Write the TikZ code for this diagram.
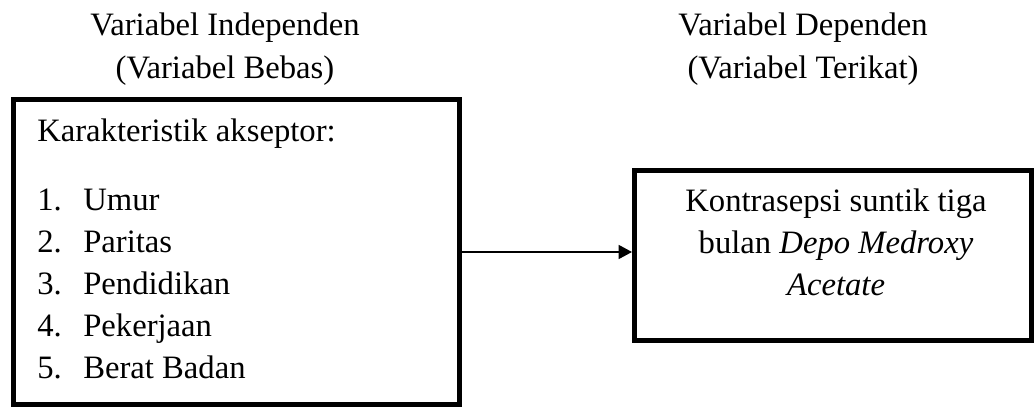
\documentclass[tikz,border=0pt]{standalone}
\usepackage{fontspec}
\setmainfont{Liberation Serif}
\usepackage{tikz}
\usetikzlibrary{arrows.meta}
\usetikzlibrary{positioning}

\tikzset{
	varbox/.style={draw,line width=3.75pt,inner sep=0pt,rectangle},
	txt/.style={anchor=base west,inner sep=0pt},
	ctxt/.style={anchor=base,inner sep=0pt},
	link/.style={line width=1.1pt,-{Triangle[length=10pt,width=10.5pt]}}
}

\begin{document}
\begin{tikzpicture}[x=0.75pt,y=-0.75pt,font=\fontsize{24.5}{32}\selectfont]
		\useasboundingbox (0,0) rectangle (1035,409);
		%print headers
		\node[ctxt] (indeptitle) at (225,36) {Variabel Independen};
		\node[ctxt] (indepsub) at (225,79) {(Variabel Bebas)};
		\node[ctxt] (deptitle) at (803,36) {Variabel Dependen};
		\node[ctxt] (depsub) at (803,79) {(Variabel Terikat)};
		%print boxes
		\node[varbox,minimum width=334.5pt,minimum height=228.75pt] (indep) at (236.5,252) {};
		\node[varbox,minimum width=297.4pt,minimum height=127.5pt] (dep) at (832.75,255.5) {};
		%independent variables
		\node[txt] (karak) at (37,142) {Karakteristik akseptor:};
		\foreach \i/\t in {1/Umur,2/Paritas,3/Pendidikan,4/Pekerjaan,5/Berat Badan}{
			\node[txt] (num\i) at (37,169+42*\i) {\i.};
			\node[txt] (item\i) at (83,169+42*\i) {\t};
		}
		%dependent variable
		\node[ctxt] (dep1) at (836,212) {Kontrasepsi suntik tiga};
		\node[ctxt] (dep2) at (836,254) {bulan \textit{Depo Medroxy}};
		\node[ctxt] (dep3) at (836,296) {\textit{Acetate}};
		%print arrow
		\draw[link] (indep.east) -- (dep.west |- indep.east);
	\end{tikzpicture}
\end{document}
